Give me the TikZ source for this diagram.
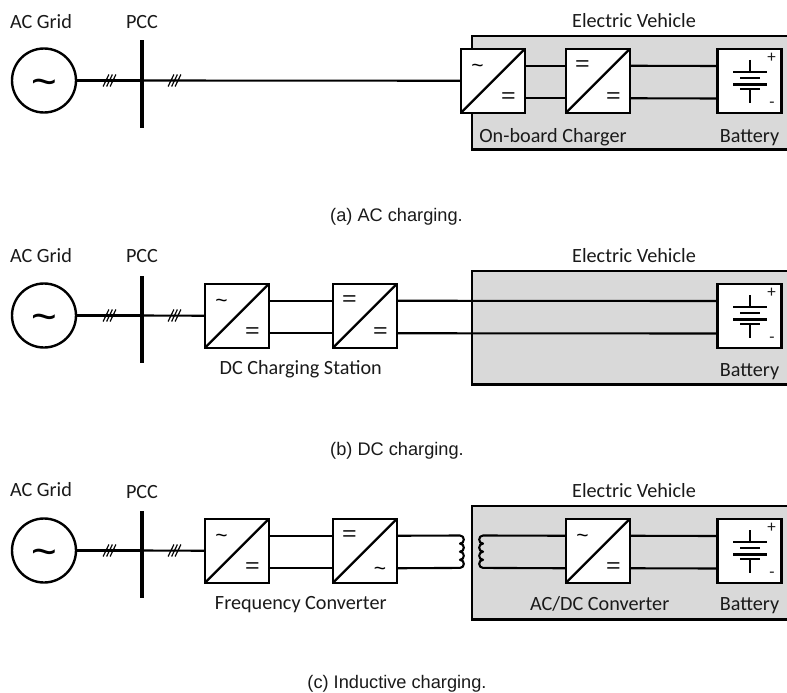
\documentclass[tikz,border=0pt]{standalone}
\usepackage{fontspec}
\usepackage{graphicx}
\usetikzlibrary{calc}
\setmainfont{Carlito}
\newfontfamily\capfont{Liberation Sans}
\definecolor{evgray}{HTML}{D9D9D9}
\definecolor{inkc}{HTML}{1A1A1A}
\tikzset{
  x=1pt,y=-1pt,
  wire/.style={line width=2.1pt,draw=black},
  boxnode/.style={draw=black,line width=2.4pt,fill=white,minimum width=64pt,minimum height=64pt,inner sep=0pt,outer sep=0pt},
  conv/.style={boxnode,path picture={\draw[line width=2.4pt] (path picture bounding box.south west) -- (path picture bounding box.north east);}},
  lbl/.style={font=\fontsize{20.2}{24}\selectfont,text=inkc,anchor=base,inner sep=0pt},
  caption/.style={font=\capfont\fontsize{18.2}{22}\selectfont,text=inkc,anchor=base,inner sep=0pt},
  sym/.style={font=\capfont\fontsize{#1}{#1}\selectfont,inner sep=0pt,anchor=center},
  eqs/.style={font=\capfont\fontsize{20}{20}\selectfont,inner sep=0pt,anchor=center},
  tickl/.style={line width=1.2pt},
  plate/.style={line width=2.2pt},
  gridc/.style={circle,draw=black,line width=2.4pt,fill=white,minimum size=64pt,inner sep=0pt,outer sep=0pt},
  busbar/.style={fill=black,minimum width=3.2pt,minimum height=87pt,inner sep=0pt,outer sep=0pt},
  evfill/.style={fill=evgray},
  evline/.style={draw=black,line width=2.4pt},
  pm/.style={font=\fontsize{17}{17}\selectfont,inner sep=0pt,text=inkc},
}
% three slashes across a line, around (#1)
\newcommand{\threeticks}[1]{%
  \foreach \dx in {-3.5,0,3.5}{\draw[tickl] ($(#1)+(\dx-2.9,6)$) -- ($(#1)+(\dx+2.9,-6)$);}}
% A grid, PCC and labels
\newcommand{\gridpart}[2]{%
  \node[gridc] (grid) at (44,80.5) {};
  \node[sym=44] at ($(grid.center)+(0,7)$) {\char"007E};
  \node[busbar] (bus) at (142,84) {};
  \coordinate (junction) at (142,80.5);
  \coordinate (t1) at (109.5,80.5);
  \coordinate (t2) at (174.5,80.5);
  \node[lbl] (gl) at (41,#1) {AC Grid};
  \node[lbl] (pl) at (142,#2) {PCC};
  \draw[wire] (grid.east) -- (junction);
  \threeticks{t1}
  \threeticks{t2}
}
\newcommand{\evbox}[2]{%
  \fill[evfill] (472,36) rectangle (787,149.5);
  \draw[evline] (787,36) -- (472,36) -- (472,149.5) -- (787,149.5);
  \node[lbl] (evl) at (634,#1) {Electric Vehicle};
  \node[lbl] (bl) at (749.5,#2) {Battery};
}
\newcommand{\batterypart}{%
  \node[boxnode] (batt) at (749.5,81) {};
  \draw[plate] ($(batt.center)+(0.5,-21)$) -- ($(batt.center)+(0.5,-9)$);
  \draw[plate] ($(batt.center)+(-16.5,-9)$) -- ($(batt.center)+(17.5,-9)$);
  \draw[plate] ($(batt.center)+(-9.5,-2.7)$) -- ($(batt.center)+(10.5,-2.7)$);
  \draw[plate] ($(batt.center)+(-16.5,3.5)$) -- ($(batt.center)+(17.5,3.5)$);
  \draw[plate] ($(batt.center)+(-9.5,8.3)$) -- ($(batt.center)+(10.5,8.3)$);
  \draw[plate] ($(batt.center)+(0.5,8.3)$) -- ($(batt.center)+(0.5,21.7)$);
  \node[pm] at ($(batt.center)+(22,-23)$) {+};
  \node[pm] at ($(batt.center)+(22.5,23.5)$) {-};
}
\newcommand{\tildeat}[2]{\node[sym=21] at ($(#1.center)+#2+(0,3.5)$) {\char"007E};}
\newcommand{\eqat}[2]{\node[eqs] at ($(#1.center)+#2$) {\scalebox{1.25}[1]{=}};}
\begin{document}
\begin{tikzpicture}
\useasboundingbox (0,0) rectangle (787,693);
\fill[white] (0,0) rectangle (787,693);

% ---------- (a)
\begin{scope}[name prefix=a-]
  \evbox{28}{142}
  \gridpart{28.3}{28.3}
  \node[conv] (c1) at (493,80.75) {};
  \node[conv] (c2) at (598,80.75) {};
  \tildeat{c1}{(-15.5,-15.5)}
  \eqat{c1}{(15.5,16.7)}
  \eqat{c2}{(-15.5,-15)}
  \eqat{c2}{(15.5,16.7)}
  \batterypart
  \draw[wire] (junction) -- (c1.west);
  \draw[wire] ([yshift=15pt]c1.east) -- ([yshift=15pt]c2.west);
  \draw[wire] ([yshift=-17.5pt]c1.east) -- ([yshift=-17.5pt]c2.west);
  \draw[wire] ([yshift=15pt]c2.east) -- ([yshift=15pt]batt.west);
  \draw[wire] ([yshift=-17.5pt]c2.east) -- ([yshift=-17.5pt]batt.west);
  \node[lbl] (cl) at (553,142) {On-board Charger};
\end{scope}
\node[caption] (capa) at (396.5,221) {(a) AC charging.};

% ---------- (b)
\begin{scope}[name prefix=b-,shift={(0,235)}]
  \evbox{27.5}{141}
  \gridpart{27.7}{27.7}
  \node[conv] (c1) at (237,80.75) {};
  \node[conv] (c2) at (365,80.75) {};
  \tildeat{c1}{(-15.5,-15.5)}
  \eqat{c1}{(15.5,16.7)}
  \eqat{c2}{(-15.5,-15)}
  \eqat{c2}{(15.5,16.7)}
  \batterypart
  \draw[wire] (junction) -- (c1.west);
  \draw[wire] ([yshift=15pt]c1.east) -- ([yshift=15pt]c2.west);
  \draw[wire] ([yshift=-17.5pt]c1.east) -- ([yshift=-17.5pt]c2.west);
  \draw[wire] ([yshift=15pt]c2.east) -- ([yshift=15pt]batt.west);
  \draw[wire] ([yshift=-17.5pt]c2.east) -- ([yshift=-17.5pt]batt.west);
  \node[lbl] (cl) at (300.7,139.3) {DC Charging Station};
\end{scope}
\node[caption] (capb) at (397,455) {(b) DC charging.};

% ---------- (c)
\begin{scope}[name prefix=c-,shift={(0,470)}]
  \evbox{27.5}{140.5}
  \gridpart{26.7}{28.3}
  \node[conv] (c1) at (237,80.75) {};
  \node[conv] (c2) at (365,80.75) {};
  \node[conv] (c3) at (598,80.75) {};
  \tildeat{c1}{(-15.5,-15.5)}
  \eqat{c1}{(15.5,16.7)}
  \eqat{c2}{(-15.5,-15)}
  \tildeat{c2}{(15,17.5)}
  \tildeat{c3}{(-15.5,-15.5)}
  \eqat{c3}{(15.5,16.7)}
  \batterypart
  \coordinate (pa) at (460,65.5);
  \coordinate (pb) at (460,97.9);
  \coordinate (sa) at (483,65.5);
  \coordinate (sb) at (483,97.9);
  \draw[wire] (junction) -- (c1.west);
  \draw[wire] ([yshift=15pt]c1.east) -- ([yshift=15pt]c2.west);
  \draw[wire] ([yshift=-17.5pt]c1.east) -- ([yshift=-17.5pt]c2.west);
  \draw[wire,line join=round] ([yshift=15pt]c2.east) -- (pa)
     to[out=0,in=0,looseness=1.6] ++(0,8.1) to[out=0,in=0,looseness=1.6] ++(0,8.1)
     to[out=0,in=0,looseness=1.6] ++(0,8.1) to[out=0,in=0,looseness=1.6] (pb)
     -- ([yshift=-17.5pt]c2.east);
  \draw[wire,line join=round] ([yshift=15pt]c3.west) -- (sa)
     to[out=180,in=180,looseness=1.6] ++(0,8.1) to[out=180,in=180,looseness=1.6] ++(0,8.1)
     to[out=180,in=180,looseness=1.6] ++(0,8.1) to[out=180,in=180,looseness=1.6] (sb)
     -- ([yshift=-17.5pt]c3.west);
  \draw[wire] ([yshift=15pt]c3.east) -- ([yshift=15pt]batt.west);
  \draw[wire] ([yshift=-17.5pt]c3.east) -- ([yshift=-17.5pt]batt.west);
  \node[lbl] (cl) at (300.8,139) {Frequency Converter};
  \node[lbl] (dl) at (599.7,140.5) {AC/DC Converter};
\end{scope}
\node[caption] (capc) at (397,688) {(c) Inductive charging.};
\end{tikzpicture}
\end{document}
